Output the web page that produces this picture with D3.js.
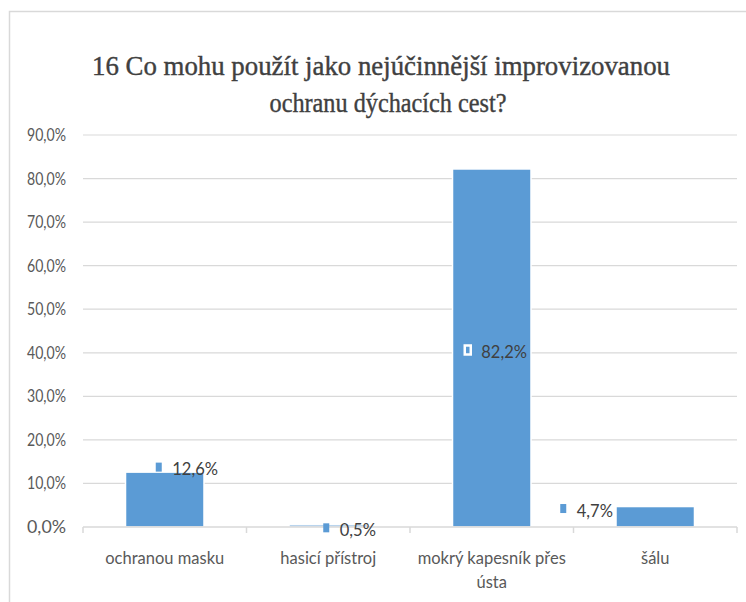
<!DOCTYPE html>
<html><head><meta charset="utf-8">
<script src="https://cdn.jsdelivr.net/npm/d3@7"></script>
<style>html,body{margin:0;padding:0;background:#fff;}</style>
</head><body>
<script>
const categories = ["ochranou masku", "hasicí přístroj", "mokrý kapesník přes ústa", "šálu"];
const categoryLines = [["ochranou masku"], ["hasicí přístroj"], ["mokrý kapesník přes", "ústa"], ["šálu"]];
const values = [12.6, 0.5, 82.2, 4.7];
const valueLabels = ["12,6%", "0,5%", "82,2%", "4,7%"];
const yTicks = [0, 10, 20, 30, 40, 50, 60, 70, 80, 90];
const titleLines = ["16 Co mohu použít jako nejúčinnější  improvizovanou", "ochranu dýchacích cest?"];

const W = 746, H = 602;
const svg = d3.select("body").append("svg").attr("width", W).attr("height", H);
const sans = "Lato, 'Open Sans', sans-serif";
const serif = "'Liberation Serif', 'DejaVu Serif', serif";

// chart border
svg.append("rect").attr("x", 9.5).attr("y", 11.5).attr("width", 760).attr("height", 620)
  .attr("fill", "#fff").attr("stroke", "#d9d9d9").attr("stroke-width", 1.5);

// title
svg.append("text").attr("x", 381).attr("y", 75).attr("text-anchor", "middle")
  .attr("font-family", serif).attr("font-size", 28)
  .attr("fill", "#404040").attr("stroke", "#404040").attr("stroke-width", 0.4)
  .attr("textLength", 578).attr("lengthAdjust", "spacingAndGlyphs")
  .text(titleLines[0]);
svg.append("text").attr("x", 388).attr("y", 112).attr("text-anchor", "middle")
  .attr("font-family", serif).attr("font-size", 28)
  .attr("fill", "#404040").attr("stroke", "#404040").attr("stroke-width", 0.4)
  .attr("textLength", 237).attr("lengthAdjust", "spacingAndGlyphs")
  .text(titleLines[1]);

const x = d3.scaleBand().domain(categories).range([83, 737]).paddingInner(0.52).paddingOuter(0.26);
const y = d3.scaleLinear().domain([0, 90]).range([527, 135]);

// gridlines
svg.append("g").selectAll("line").data(yTicks.filter(d => d > 0)).join("line")
  .attr("x1", 83).attr("x2", 737).attr("y1", d => y(d)).attr("y2", d => y(d))
  .attr("stroke", "#d9d9d9").attr("stroke-width", 1.2);

// y labels
svg.append("g").selectAll("text").data(yTicks).join("text")
  .attr("x", 66).attr("y", d => y(d) + 6).attr("text-anchor", "end")
  .attr("font-family", sans).attr("font-size", 16.5).attr("fill", "#595959")
  .attr("textLength", 39).attr("lengthAdjust", "spacingAndGlyphs")
  .text(d => d3.format(".1f")(d).replace(".", ",") + "%");

// bars
svg.append("g").selectAll("rect").data(values).join("rect")
  .attr("x", (d, i) => x(categories[i])).attr("width", x.bandwidth())
  .attr("y", d => y(d)).attr("height", d => y(0) - y(d))
  .attr("fill", "#5b9bd5").attr("stroke", "#fff").attr("stroke-width", 1.5);

// x axis line and ticks
const edges = d3.range(categories.length + 1).map(i => 83 + i * x.step());
svg.append("line").attr("x1", 83).attr("x2", 737).attr("y1", y(0)).attr("y2", y(0))
  .attr("stroke", "#d9d9d9").attr("stroke-width", 1.5);
svg.append("g").selectAll("line").data(edges).join("line")
  .attr("x1", d => d).attr("x2", d => d).attr("y1", y(0)).attr("y2", y(0) + 6)
  .attr("stroke", "#d9d9d9").attr("stroke-width", 1.5);

// x labels
categoryLines.forEach((lines, i) => {
  const cx = x(categories[i]) + x.bandwidth() / 2;
  lines.forEach((ln, j) => {
    svg.append("text").attr("x", cx).attr("y", 564 + j * 24).attr("text-anchor", "middle")
      .attr("font-family", sans).attr("font-size", 16.5).attr("fill", "#595959")
      .text(ln);
  });
});

// data labels (legend key + text)
const labelDx = [-6, -2, -24, -92];
const labelDy = [-5, 3, 2, 2];
values.forEach((v, i) => {
  const cx = x(categories[i]) + x.bandwidth() / 2 + labelDx[i];
  const cy = (i === 2 ? y(v / 2) : y(v)) + labelDy[i];
  const g = svg.append("g");
  g.append("rect").attr("x", cx - 3).attr("y", cy - 4.5).attr("width", 6).attr("height", 9)
    .attr("fill", "#5b9bd5").attr("stroke", i === 2 ? "#fff" : "none").attr("stroke-width", 2.5);
  g.append("text").attr("x", cx + 13.5).attr("y", cy + 8)
    .attr("font-family", sans).attr("font-size", 16.5).attr("fill", "#404040")
    .text(valueLabels[i]);
});
</script>
</body></html>
